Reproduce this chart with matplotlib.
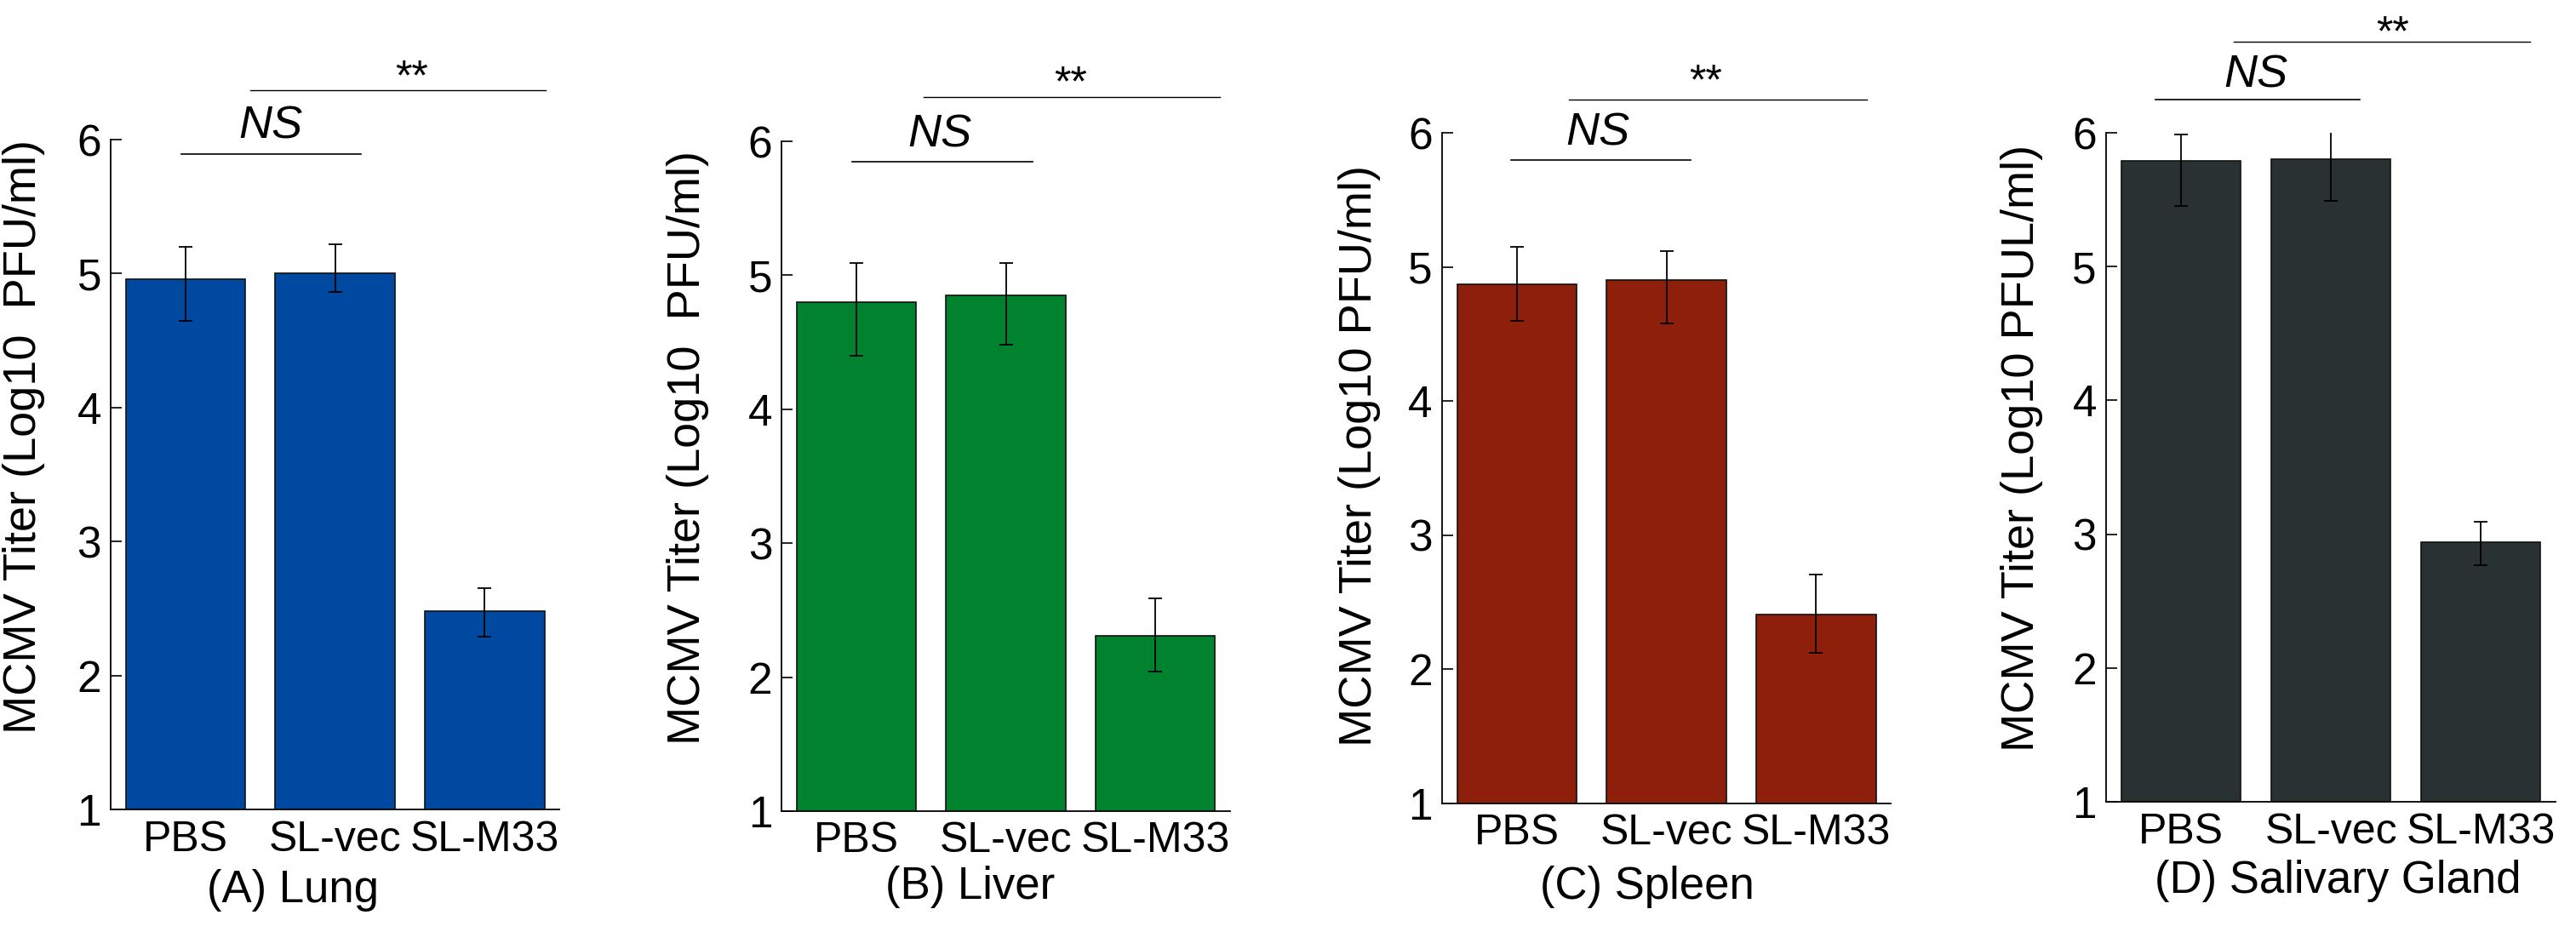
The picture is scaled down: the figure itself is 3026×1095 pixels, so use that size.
import numpy as np
import matplotlib

matplotlib.use("Agg")
import matplotlib.pyplot as plt

plt.rcParams["font.family"] = ["Liberation Sans", "DejaVu Sans"]

# groups on the x axis
groups = ["PBS", "SL-vec", "SL-M33"]

# mean titers (log10 PFU/ml) and the ends of the error bars
lung_mean = [4.96, 5.00, 2.48]
lung_low = [4.65, 4.86, 2.29]
lung_high = [5.20, 5.22, 2.65]

liver_mean = [4.80, 4.85, 2.31]
liver_low = [4.40, 4.48, 2.04]
liver_high = [5.09, 5.09, 2.59]

spleen_mean = [4.87, 4.90, 2.41]
spleen_low = [4.60, 4.58, 2.12]
spleen_high = [5.15, 5.12, 2.71]

salivary_mean = [5.79, 5.80, 2.94]
salivary_low = [5.45, 5.49, 2.77]
salivary_high = [5.99, 6.03, 3.09]

titles = ["(A) Lung", "(B) Liver", "(C) Spleen", "(D) Salivary Gland"]
ylabels = [
    "MCMV Titer (Log10  PFU/ml)",
    "MCMV Titer (Log10  PFU/ml)",
    "MCMV Titer (Log10 PFU/ml)",
    "MCMV Titer (Log10 PFUL/ml)",
]
yticks = [1, 2, 3, 4, 5, 6]

means = [lung_mean, liver_mean, spleen_mean, salivary_mean]
lows = [lung_low, liver_low, spleen_low, salivary_low]
highs = [lung_high, liver_high, spleen_high, salivary_high]

# layout / styling
colors = ["#0049A1", "#00822F", "#8E1F0B", "#2A3133"]
rects = [
    [0.0430, 0.1315, 0.1742, 0.7187],
    [0.3035, 0.1297, 0.1740, 0.7187],
    [0.5598, 0.1379, 0.1742, 0.7196],
    [0.8176, 0.1397, 0.1745, 0.7178],
]
ylabel_pos = [(-0.146, 0.557), (-0.163, 0.543), (-0.137, 0.519), (-0.140, 0.529)]
title_pos = [(0.406, -0.121), (0.420, -0.113), (0.457, -0.124), (0.516, -0.118)]
# significance bars: (x0, x1, y, text x, text baseline)
ns_bars = [
    (-0.03, 1.17, 5.89, 0.57, 6.01),
    (-0.03, 1.18, 5.85, 0.56, 5.96),
    (-0.04, 1.16, 5.80, 0.54, 5.91),
    (-0.17, 1.19, 6.25, 0.50, 6.34),
]
star_bars = [
    (0.43, 2.41, 6.37, 1.51, 6.37),
    (0.45, 2.43, 6.33, 1.43, 6.34),
    (0.35, 2.34, 6.25, 1.26, 6.29),
    (0.35, 2.33, 6.68, 1.41, 6.65),
]

fig = plt.figure(figsize=(30.26, 10.95), dpi=100)

for i in range(4):
    ax = fig.add_axes(rects[i])
    x = np.arange(len(groups))
    m = np.array(means[i])
    yerr = [m - np.array(lows[i]), np.array(highs[i]) - m]

    ax.bar(
        x,
        m,
        width=0.8,
        color=colors[i],
        edgecolor="#111111",
        linewidth=1.2,
        yerr=yerr,
        capsize=6,
        error_kw=dict(elinewidth=1.3, capthick=1.3, ecolor="black"),
    )

    ax.set_xlim(-0.5, 2.5)
    ax.set_ylim(1, 6)
    ax.set_yticks(yticks)
    ax.set_yticklabels([str(t) for t in yticks])
    ax.set_xticks(x)
    ax.set_xticklabels(groups)
    ax.tick_params(axis="y", direction="in", length=9, width=1.2, labelsize=37, pad=8)
    ax.tick_params(axis="x", length=0, labelsize=36, pad=9)

    for side in ["top", "right"]:
        ax.spines[side].set_visible(False)
    for side in ["left", "bottom"]:
        ax.spines[side].set_linewidth(1.3)

    ax.set_ylabel(ylabels[i], fontsize=39)
    ax.yaxis.set_label_coords(*ylabel_pos[i])

    ax.text(
        title_pos[i][0],
        title_pos[i][1],
        titles[i],
        transform=ax.transAxes,
        ha="center",
        va="center",
        fontsize=38,
    )

    x0, x1, yl, tx, ty = ns_bars[i]
    ax.plot([x0, x1], [yl, yl], color="black", lw=1.2, clip_on=False)
    ax.text(tx, ty, "NS", ha="center", va="baseline", fontsize=39,
            style="italic", clip_on=False)

    x0, x1, yl, tx, ty = star_bars[i]
    ax.plot([x0, x1], [yl, yl], color="black", lw=1.0, clip_on=False)
    ax.text(tx, ty, "**", ha="center", va="baseline", fontsize=36, clip_on=False)

fig.savefig("out.png", dpi=100, facecolor="white")
plt.close(fig)
